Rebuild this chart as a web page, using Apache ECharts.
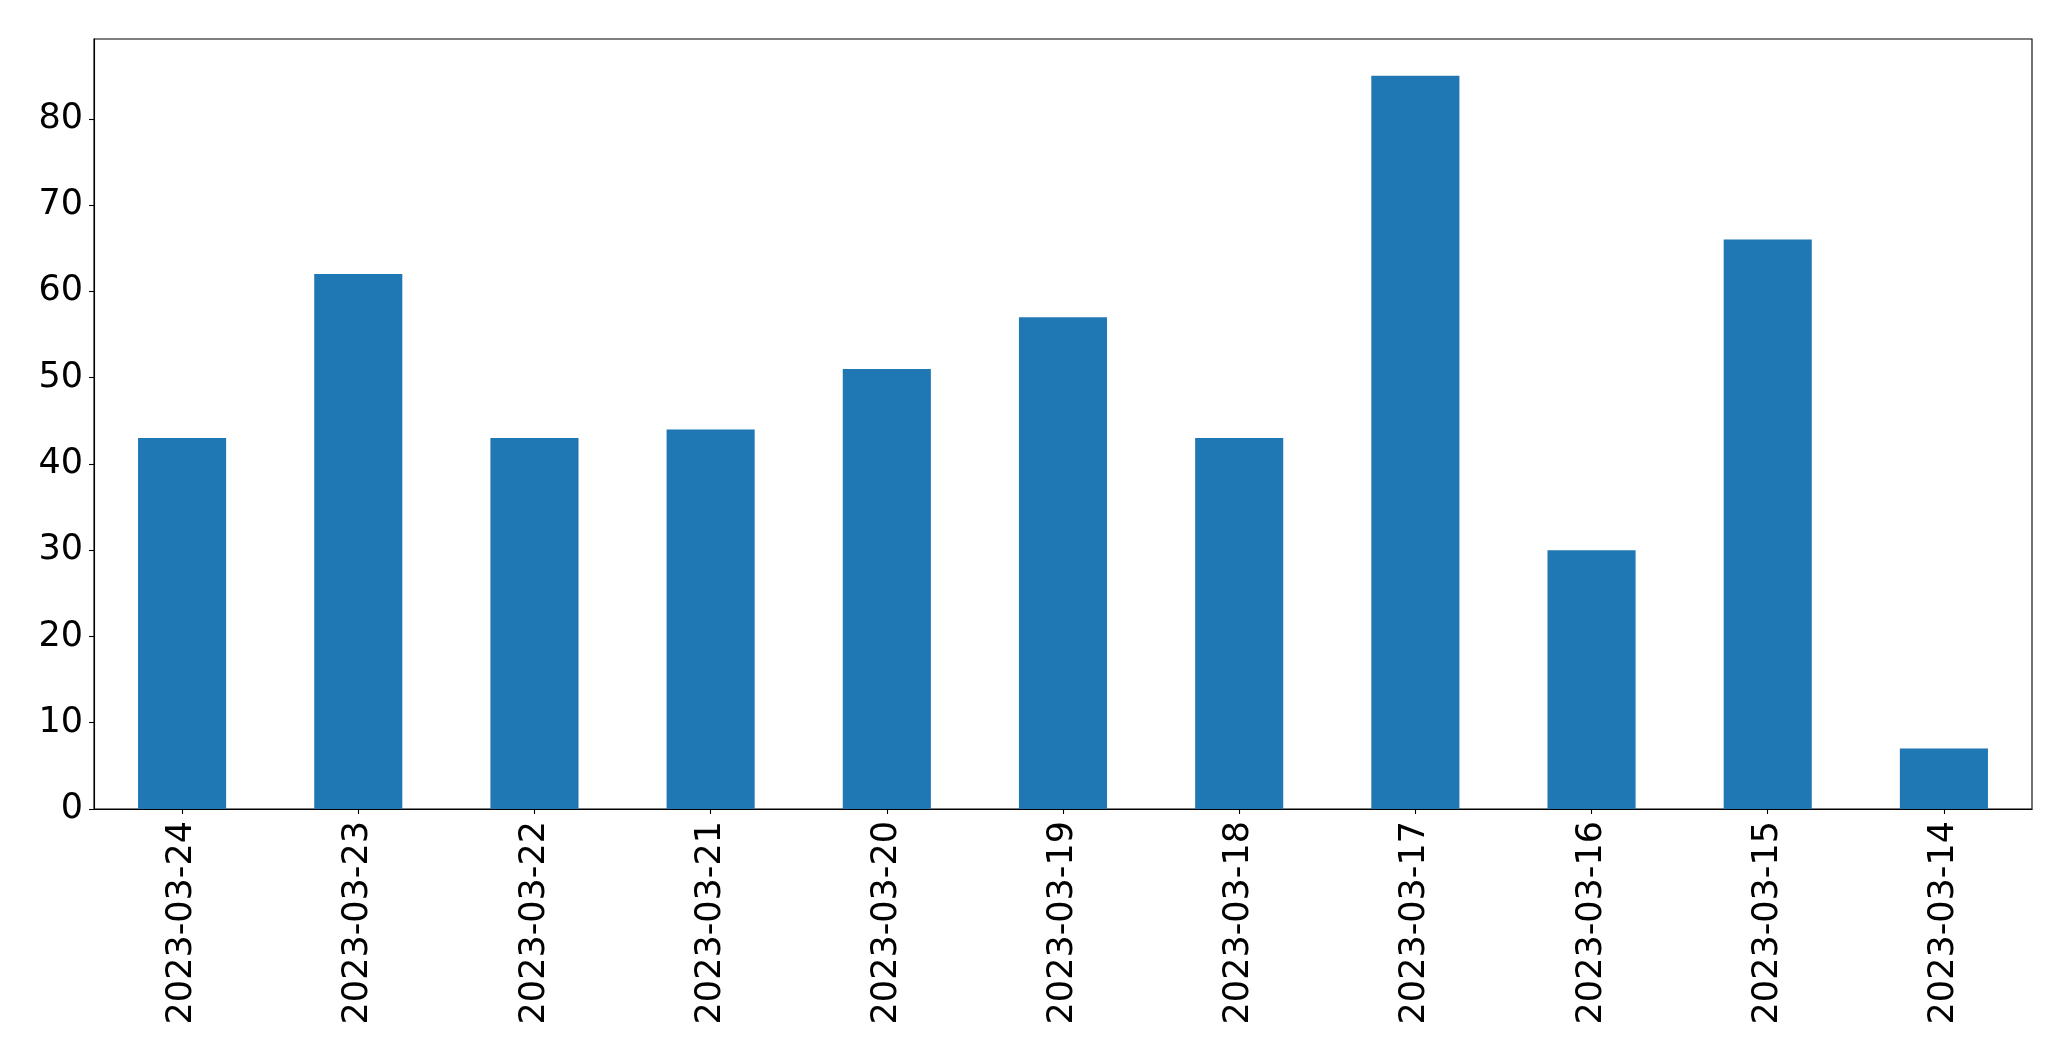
<!DOCTYPE html>
<html>
<head>
<meta charset="utf-8">
<script src="https://cdn.jsdelivr.net/npm/echarts@6/dist/echarts.min.js"></script>
<style>
html,body{margin:0;padding:0;background:#fff;}
#chart{width:2071px;height:1061px;}
</style>
</head>
<body>
<div id="chart"></div>
<script>
const categories = ["2023-03-24","2023-03-23","2023-03-22","2023-03-21","2023-03-20","2023-03-19","2023-03-18","2023-03-17","2023-03-16","2023-03-15","2023-03-14"];
const values = [43, 62, 43, 44, 51, 57, 43, 85, 30, 66, 7];
const yTicks = [0, 10, 20, 30, 40, 50, 60, 70, 80];

const chart = echarts.init(document.getElementById('chart'), null, {renderer: 'canvas'});
const font = 'DejaVu Sans';
chart.setOption({
  animation: false,
  backgroundColor: '#ffffff',
  grid: {left: 94, right: 39, top: 39, bottom: 252, show: true, borderColor: '#000', borderWidth: 1.1, backgroundColor: 'transparent'},
  xAxis: {
    type: 'category',
    data: categories,
    boundaryGap: true,
    axisLine: {show: true, lineStyle: {color: '#000', width: 1.1}},
    axisTick: {show: true, alignWithLabel: true, length: 5, lineStyle: {color: '#000', width: 1.1}},
    axisLabel: {rotate: 90, fontSize: 35, fontFamily: font, color: '#000', margin: 12, interval: 0},
    splitLine: {show: false}
  },
  yAxis: {
    type: 'value',
    min: 0,
    max: 89.25,
    interval: 10,
    axisLine: {show: true, lineStyle: {color: '#000', width: 1.1}},
    axisTick: {show: true, length: 5, lineStyle: {color: '#000', width: 1.1}},
    axisLabel: {fontSize: 35, fontFamily: font, color: '#000', margin: 11, showMaxLabel: false,
      formatter: v => yTicks.includes(v) ? String(v) : ''},
    splitLine: {show: false}
  },
  series: [{
    type: 'bar',
    data: values,
    barWidth: '50%',
    itemStyle: {color: '#1f77b4'}
  }]
});
</script>
</body>
</html>
